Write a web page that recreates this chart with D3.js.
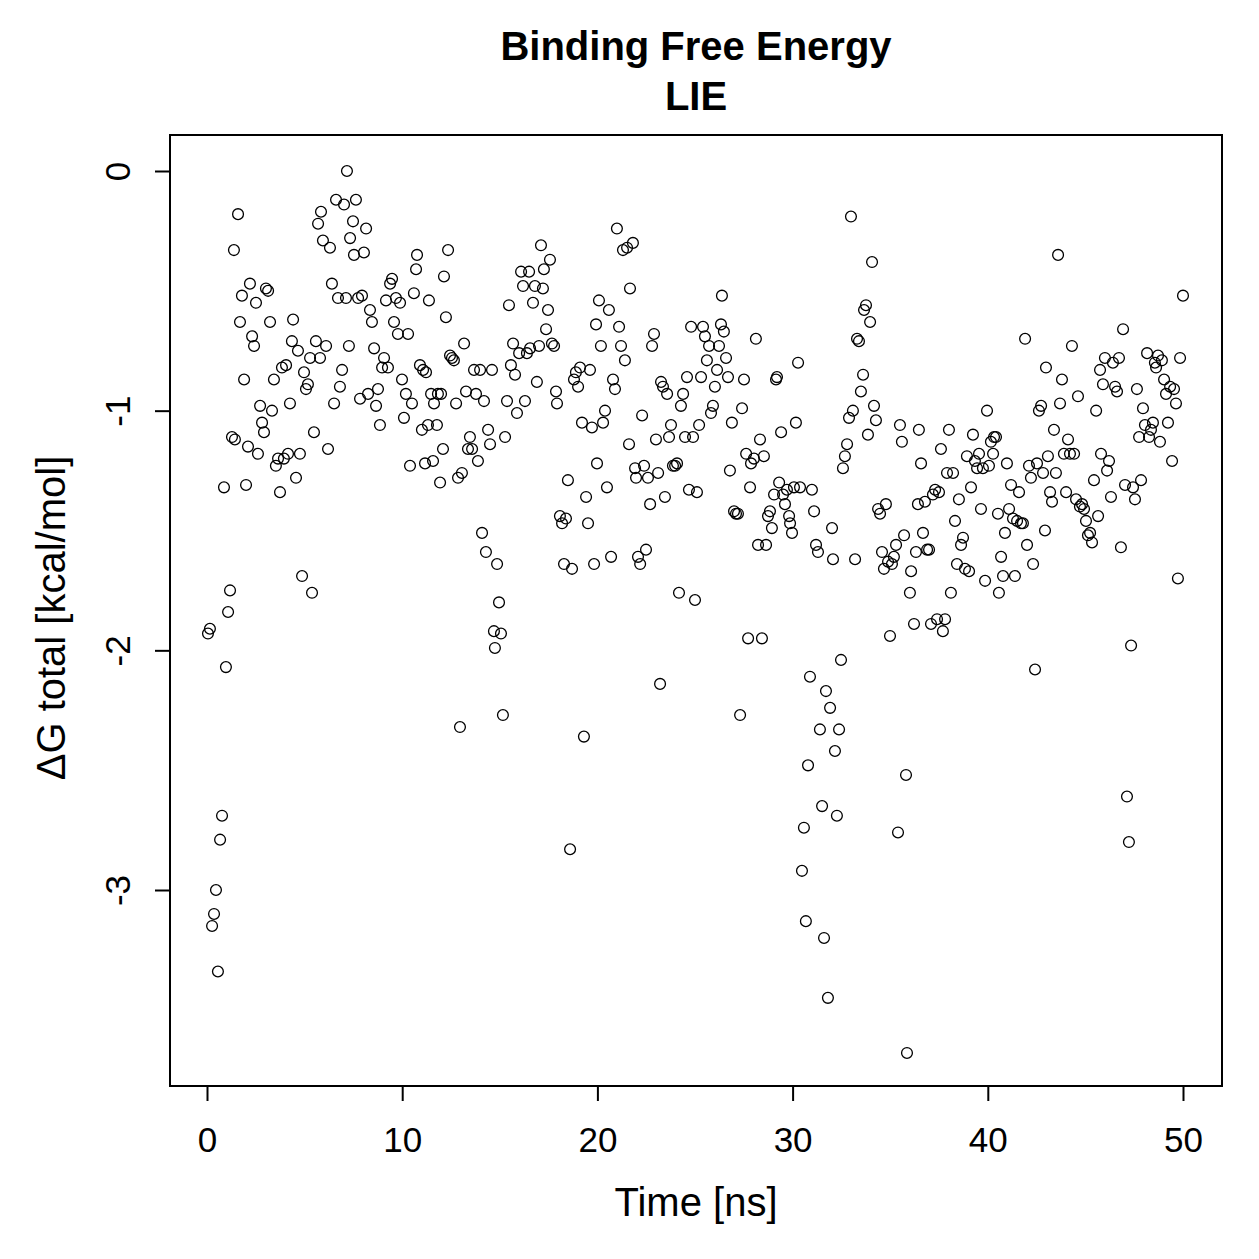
<!DOCTYPE html>
<html>
<head>
<script src="https://cdn.jsdelivr.net/npm/d3@7"></script>
<title>Binding Free Energy LIE</title>
<style>
  body { margin:0; background:#fff; }
  text { font-family: "Liberation Sans", Arial, Helvetica, sans-serif; fill:#000; }
</style>
</head>
<body>
<div id="chart"></div>
<script>
// time [ns] and dG total [kcal/mol]
var time = [0.05,0.15,0.26,0.36,0.46,0.56,0.67,0.77,0.87,0.97,1.08,1.18,1.28,1.38,1.43,1.59,1.69,1.79,1.90,2.00,
 2.10,2.20,2.31,2.41,2.51,2.61,2.72,2.82,2.92,3.02,3.13,3.23,3.33,3.43,3.53,3.64,3.74,3.84,3.94,4.05,
 4.15,4.25,4.35,4.41,4.56,4.66,4.76,4.87,4.97,5.07,5.17,5.28,5.38,5.48,5.58,5.69,5.79,5.84,5.94,6.10,
 6.20,6.30,6.40,6.51,6.61,6.71,6.81,6.92,7.02,7.12,7.17,7.27,7.33,7.48,7.53,7.63,7.74,7.84,7.94,8.04,
 8.15,8.25,8.35,8.45,8.56,8.66,8.76,8.86,8.97,9.07,9.17,9.27,9.38,9.48,9.58,9.68,9.78,9.89,9.99,10.09,
 10.19,10.30,10.40,10.50,10.60,10.71,10.76,10.91,11.01,11.07,11.17,11.22,11.32,11.37,11.48,11.58,11.63,11.78,11.83,11.94,
 11.99,12.09,12.14,12.24,12.35,12.45,12.55,12.65,12.76,12.86,12.96,13.06,13.17,13.27,13.37,13.47,13.58,13.68,13.78,13.88,
 13.99,14.09,14.19,14.29,14.40,14.50,14.60,14.70,14.75,14.86,14.96,15.06,15.16,15.27,15.37,15.47,15.57,15.68,15.78,15.88,
 15.99,16.09,16.19,16.29,16.39,16.50,16.55,16.70,16.80,16.90,17.01,17.11,17.21,17.26,17.37,17.47,17.57,17.67,17.78,17.88,
 17.93,18.08,18.19,18.29,18.39,18.49,18.60,18.70,18.80,18.90,19.01,19.11,19.21,19.31,19.42,19.52,19.62,19.72,19.83,19.93,
 19.98,20.08,20.18,20.29,20.39,20.49,20.59,20.70,20.80,20.90,21.00,21.11,21.21,21.31,21.41,21.52,21.62,21.67,21.82,21.93,
 21.98,22.08,22.19,22.29,22.39,22.49,22.59,22.70,22.80,22.90,23.00,23.11,23.21,23.26,23.36,23.46,23.57,23.67,23.77,23.87,
 23.98,24.08,24.18,24.28,24.39,24.49,24.59,24.69,24.80,24.90,25.00,25.10,25.21,25.31,25.41,25.51,25.61,25.72,25.82,25.92,
 26.02,26.13,26.23,26.33,26.38,26.48,26.59,26.69,26.79,26.89,27.00,27.10,27.20,27.31,27.41,27.51,27.62,27.72,27.82,27.87,
 28.02,28.12,28.23,28.33,28.43,28.53,28.64,28.74,28.84,28.94,29.05,29.15,29.20,29.31,29.41,29.51,29.61,29.71,29.82,29.87,
 29.97,30.07,30.17,30.28,30.38,30.48,30.58,30.68,30.79,30.89,30.99,31.10,31.20,31.30,31.40,31.51,31.61,31.71,31.81,31.92,
 32.02,32.07,32.17,32.27,32.38,32.48,32.58,32.68,32.79,32.89,32.99,33.09,33.20,33.30,33.40,33.50,33.61,33.66,33.76,33.86,
 33.97,34.07,34.17,34.27,34.38,34.48,34.58,34.68,34.78,34.89,34.99,35.09,35.19,35.30,35.40,35.50,35.60,35.71,35.81,35.86,
 36.01,36.07,36.22,36.32,36.42,36.47,36.58,36.68,36.78,36.89,36.99,37.09,37.19,37.30,37.40,37.50,37.60,37.70,37.81,37.91,
 38.01,38.11,38.22,38.32,38.42,38.52,38.63,38.73,38.83,38.93,39.04,39.14,39.24,39.34,39.45,39.55,39.65,39.75,39.86,39.96,
 40.06,40.16,40.27,40.32,40.42,40.52,40.57,40.68,40.78,40.88,40.98,41.09,41.19,41.29,41.39,41.50,41.60,41.70,41.80,41.91,
 42.01,42.11,42.21,42.32,42.42,42.52,42.62,42.73,42.83,42.93,42.98,43.08,43.19,43.29,43.39,43.49,43.60,43.70,43.80,43.90,
 44.01,44.11,44.21,44.31,44.42,44.52,44.62,44.72,44.83,44.93,45.03,45.13,45.24,45.34,45.44,45.55,45.65,45.75,45.80,45.90,
 46.00,46.11,46.21,46.31,46.41,46.52,46.62,46.72,46.82,46.93,47.03,47.13,47.23,47.34,47.44,47.54,47.64,47.75,47.85,47.95,
 48.05,48.16,48.26,48.36,48.46,48.56,48.62,48.72,48.82,48.92,49.03,49.13,49.23,49.34,49.44,49.54,49.64,49.74,49.85,50.00];

var dG = [-1.93,-1.91,-3.15,-3.10,-3.00,-3.34,-2.79,-2.69,-1.32,-2.07,-1.84,-1.75,-1.11,-0.33,-1.12,-0.18,-0.63,-0.52,-0.87,-1.31,
 -1.15,-0.47,-0.69,-0.73,-0.55,-1.18,-0.98,-1.05,-1.09,-0.49,-0.50,-0.63,-1.00,-0.87,-1.23,-1.20,-1.34,-0.82,-1.20,-0.81,
 -1.18,-0.97,-0.71,-0.62,-1.28,-0.75,-1.18,-1.69,-0.84,-0.91,-0.89,-0.78,-1.76,-1.09,-0.71,-0.22,-0.78,-0.17,-0.29,-0.73,
 -1.16,-0.32,-0.47,-0.97,-0.12,-0.53,-0.90,-0.83,-0.14,-0.53,0.00,-0.73,-0.28,-0.21,-0.35,-0.12,-0.53,-0.95,-0.52,-0.34,
 -0.24,-0.93,-0.58,-0.63,-0.74,-0.98,-0.91,-1.06,-0.82,-0.78,-0.54,-0.82,-0.47,-0.45,-0.63,-0.53,-0.68,-0.55,-0.87,-1.03,
 -0.93,-0.68,-1.23,-0.97,-0.51,-0.41,-0.35,-0.81,-1.08,-0.83,-1.22,-0.84,-1.06,-0.54,-0.93,-1.21,-0.97,-1.06,-0.93,-1.30,
 -0.93,-1.16,-0.44,-0.61,-0.33,-0.77,-0.78,-0.79,-0.97,-1.28,-2.32,-1.26,-0.72,-0.92,-1.16,-1.11,-1.16,-0.83,-0.93,-1.21,
 -0.83,-1.51,-0.96,-1.59,-1.08,-1.14,-0.83,-1.92,-1.99,-1.64,-1.80,-1.93,-2.27,-1.11,-0.96,-0.56,-0.81,-0.72,-0.85,-1.01,
 -0.76,-0.42,-0.48,-0.96,-0.76,-0.42,-0.74,-0.55,-0.48,-0.88,-0.73,-0.31,-0.49,-0.41,-0.66,-0.58,-0.37,-0.72,-0.73,-0.92,
 -0.97,-1.44,-1.47,-1.64,-1.45,-1.29,-2.83,-1.66,-0.87,-0.84,-0.90,-0.82,-1.05,-2.36,-1.36,-1.47,-0.83,-1.07,-1.64,-0.64,
 -1.22,-0.54,-0.73,-1.05,-1.00,-1.32,-0.58,-1.61,-0.87,-0.91,-0.24,-0.65,-0.73,-0.33,-0.79,-0.32,-1.14,-0.49,-0.30,-1.24,
 -1.28,-1.61,-1.64,-1.02,-1.23,-1.58,-1.28,-1.39,-0.73,-0.68,-1.12,-1.26,-2.14,-0.88,-0.90,-1.36,-0.93,-1.11,-1.06,-1.23,
 -1.23,-1.22,-1.76,-0.98,-0.93,-1.11,-0.86,-1.33,-0.65,-1.11,-1.79,-1.34,-1.06,-0.86,-0.65,-0.69,-0.79,-0.73,-1.01,-0.98,
 -0.90,-0.83,-0.73,-0.64,-0.52,-0.67,-0.78,-0.86,-1.25,-1.05,-1.42,-1.43,-1.43,-2.27,-0.99,-0.87,-1.18,-1.95,-1.32,-1.22,
 -1.20,-0.70,-1.56,-1.12,-1.95,-1.19,-1.56,-1.44,-1.42,-1.49,-1.35,-0.87,-0.86,-1.30,-1.09,-1.35,-1.39,-1.33,-1.44,-1.47,
 -1.51,-1.32,-1.05,-0.80,-1.32,-2.92,-2.74,-3.13,-2.48,-2.11,-1.33,-1.42,-1.56,-1.59,-2.33,-2.65,-3.20,-2.17,-3.45,-2.24,
 -1.49,-1.62,-2.42,-2.69,-2.33,-2.04,-1.24,-1.19,-1.14,-1.03,-0.19,-1.00,-1.62,-0.70,-0.71,-0.92,-0.85,-0.58,-0.56,-1.10,
 -0.63,-0.38,-0.98,-1.04,-1.41,-1.43,-1.59,-1.66,-1.39,-1.63,-1.94,-1.64,-1.61,-1.56,-2.76,-1.06,-1.13,-1.52,-2.52,-3.68,
 -1.76,-1.67,-1.89,-1.59,-1.39,-1.08,-1.22,-1.51,-1.38,-1.58,-1.58,-1.89,-1.35,-1.33,-1.87,-1.34,-1.16,-1.92,-1.87,-1.26,
 -1.08,-1.76,-1.26,-1.46,-1.64,-1.37,-1.56,-1.53,-1.66,-1.19,-1.67,-1.32,-1.10,-1.21,-1.24,-1.18,-1.41,-1.24,-1.71,-1.00,
 -1.23,-1.13,-1.18,-1.11,-1.11,-1.43,-1.76,-1.61,-1.69,-1.51,-1.22,-1.41,-1.31,-1.45,-1.69,-1.46,-1.34,-1.47,-1.47,-0.70,
 -1.56,-1.23,-1.28,-1.64,-2.08,-1.22,-1.00,-0.98,-1.26,-1.50,-0.82,-1.19,-1.34,-1.38,-1.08,-1.26,-0.35,-0.97,-0.87,-1.18,
 -1.34,-1.12,-1.18,-0.73,-1.18,-1.37,-0.94,-1.40,-1.39,-1.41,-1.46,-1.52,-1.51,-1.55,-1.29,-1.00,-1.44,-0.83,-1.18,-0.89,
 -0.78,-1.25,-1.21,-1.36,-0.80,-0.90,-0.92,-0.78,-1.57,-0.66,-1.31,-2.61,-2.80,-1.98,-1.32,-1.37,-0.91,-1.11,-1.29,-0.99,
 -1.06,-0.76,-1.11,-1.08,-1.05,-0.80,-0.82,-0.77,-1.13,-0.79,-0.87,-0.93,-1.05,-0.90,-1.21,-0.91,-0.97,-1.70,-0.78,-0.52];

var xTicks = [0, 10, 20, 30, 40, 50];
var yTicks = [0, -1, -2, -3];

var W = 1259, H = 1259;
var box = {left:170, right:1222, top:135, bottom:1086};
var fam = "Liberation Sans, Arial, sans-serif";

var svg = d3.select("#chart").append("svg")
  .attr("width", W).attr("height", H);

var x = d3.scaleLinear().domain([0, 50]).range([207, 1183]);
var y = d3.scaleLinear().domain([0, -3]).range([171, 890]);

// points (open circles, like pch=1)
svg.append("g").selectAll("circle")
  .data(d3.range(time.length))
  .enter().append("circle")
    .attr("cx", function(i) { return x(time[i]); })
    .attr("cy", function(i) { return y(dG[i]); })
    .attr("r", 5.4)
    .attr("fill", "none")
    .attr("stroke", "#000")
    .attr("stroke-width", 1.3);

// frame
svg.append("rect")
  .attr("x", box.left).attr("y", box.top)
  .attr("width", box.right - box.left).attr("height", box.bottom - box.top)
  .attr("fill", "none").attr("stroke", "#000").attr("stroke-width", 2);

// x axis
var xAxis = d3.axisBottom(x).tickValues(xTicks).tickSize(15).tickPadding(26)
  .tickFormat(function(d) { return String(d); });
var gx = svg.append("g").attr("transform", "translate(0," + box.bottom + ")").call(xAxis);
gx.select(".domain").remove();
gx.selectAll("line").attr("stroke-width", 2);
gx.selectAll("text").style("font-size", "35px").style("font-family", fam);

// y axis, labels rotated like R's default
var yAxis = d3.axisLeft(y).tickValues(yTicks).tickSize(15)
  .tickFormat(function(d) { return String(d); });
var gy = svg.append("g").attr("transform", "translate(" + box.left + ",0)").call(yAxis);
gy.select(".domain").remove();
gy.selectAll("line").attr("stroke-width", 2);
gy.selectAll("text")
  .attr("x", null).attr("dy", null)
  .attr("text-anchor", "middle")
  .attr("transform", "translate(-40,0) rotate(-90)")
  .style("font-size", "35px").style("font-family", fam);

// titles
svg.append("text").attr("x", 696).attr("y", 60).attr("text-anchor", "middle")
  .style("font-size", "40px").style("font-weight", "bold").text("Binding Free Energy");
svg.append("text").attr("x", 696).attr("y", 110).attr("text-anchor", "middle")
  .style("font-size", "40px").style("font-weight", "bold").text("LIE");

svg.append("text").attr("x", 696).attr("y", 1216).attr("text-anchor", "middle")
  .style("font-size", "40px").text("Time [ns]");

svg.append("text")
  .attr("transform", "translate(65,618) rotate(-90)")
  .attr("text-anchor", "middle")
  .style("font-size", "40px").text("ΔG total [kcal/mol]");
</script>
</body>
</html>
